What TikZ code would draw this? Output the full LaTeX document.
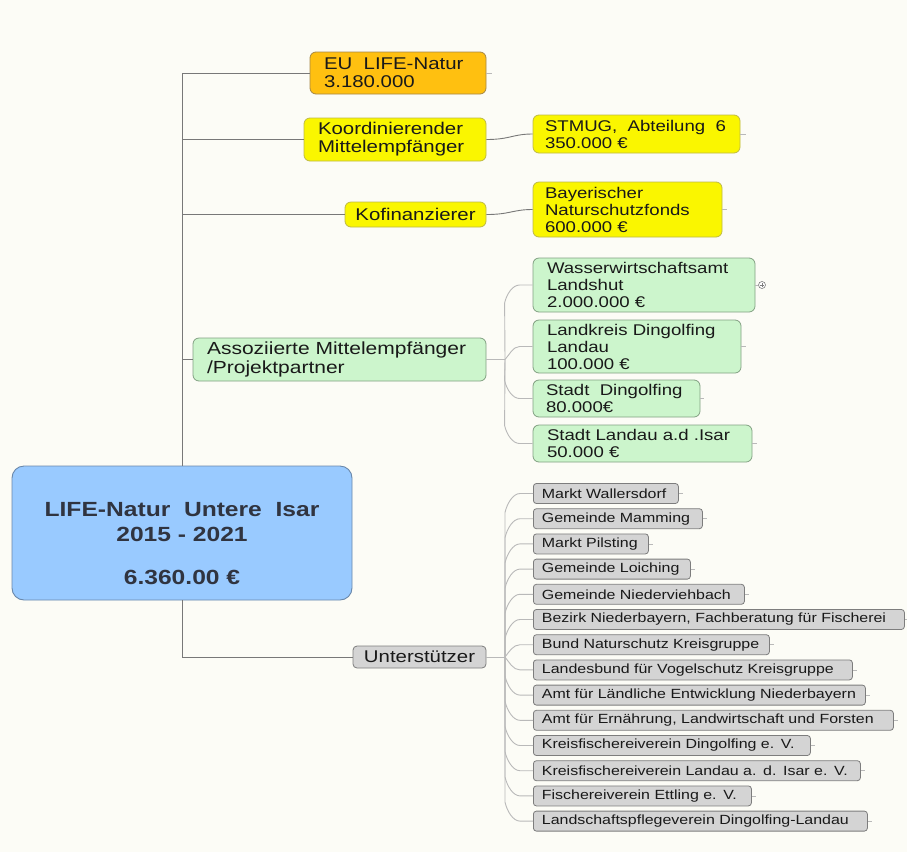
\documentclass[tikz,border=0pt]{standalone}
\usepackage{fontspec}
\setmainfont{Liberation Sans}[FakeStretch=1.2]
\usetikzlibrary{calc}
\definecolor{bgc}{RGB}{252,252,246}
\definecolor{rootfill}{RGB}{153,202,255}
\definecolor{rootbd}{RGB}{105,135,170}
\definecolor{eufill}{RGB}{255,192,16}
\definecolor{eubd}{RGB}{165,135,70}
\definecolor{yfill}{RGB}{250,246,0}
\definecolor{ybd}{RGB}{190,185,70}
\definecolor{gfill}{RGB}{204,245,204}
\definecolor{gbd}{RGB}{130,160,130}
\definecolor{grfill}{RGB}{212,212,212}
\definecolor{grbd}{RGB}{125,125,125}
\definecolor{txt}{RGB}{25,25,25}
\definecolor{roottxt}{RGB}{48,52,64}
\definecolor{mainln}{RGB}{120,120,120}
\definecolor{lightln}{RGB}{185,185,185}
\newcommand{\fsz}[2]{\fontsize{#1}{#2}\selectfont}
\begin{document}
\begin{tikzpicture}[x=1pt,y=-1pt,
  every node/.style={text=txt},
  basebox/.style={rounded corners=6pt, line width=0.8pt, inner ysep=0pt, align=left},
  eubox/.style={basebox, fill=eufill, draw=eubd, inner xsep=14pt, font=\fsz{17}{18}},
  ybox/.style={basebox, fill=yfill, draw=ybd, inner xsep=14pt, font=\fsz{17}{18}},
  ychild/.style={basebox, fill=yfill, draw=ybd, inner xsep=12pt, font=\fsz{15.5}{17}},
  gpar/.style={basebox, fill=gfill, draw=gbd, inner xsep=14pt, font=\fsz{17.5}{19}},
  gchild/.style={basebox, fill=gfill, draw=gbd, inner xsep=14pt, font=\fsz{15.5}{17}},
  grpar/.style={basebox, rounded corners=4pt, fill=grfill, draw=grbd, inner xsep=10pt, font=\fsz{17}{18}, align=center},
  grchild/.style={basebox, rounded corners=3pt, fill=grfill, draw=grbd, inner xsep=8.5pt, font=\fsz{13.3}{14}, anchor=west, minimum height=20pt},
  rootbox/.style={rounded corners=12pt, fill=rootfill, draw=rootbd, line width=0.9pt},
  mainlink/.style={draw=mainln, line width=0.95pt},
  sublink/.style={draw=lightln, line width=0.9pt},
  stub/.style={draw=lightln, line width=0.8pt}
]
\useasboundingbox (0,0) rectangle (907,852);
\fill[bgc] (0,0) rectangle (907,852);

% root
\node[rootbox, minimum width=340pt, minimum height=134pt] (root) at (182,533) {};
\node[align=center, text=roottxt, font=\bfseries\fsz{20.5}{25}] (roottext) at (182,544)
  {LIFE-Natur\ \ Untere\ \ Isar\\2015 - 2021\\[18pt]6.360.00 €};

% first-level nodes
\node[eubox, minimum width=176pt, minimum height=42pt, text width=148pt] (eu) at (398,73) {EU\ \ LIFE-Natur\\3.180.000};
\node[ybox, minimum width=182pt, minimum height=43pt, text width=154pt] (koord) at (395,139.5) {Koordinierender\\Mittelempfänger};
\node[ybox, inner xsep=10pt, minimum width=141pt, minimum height=25pt, align=center] (kofin) at (415.5,214.5) {Kofinanzierer};
\node[gpar, minimum width=293pt, minimum height=43pt, text width=265pt] (assoz) at (339.5,359.5) {Assoziierte Mittelempfänger\\/Projektpartner};
\node[grpar, minimum width=133pt, minimum height=22pt] (unt) at (419.5,657) {Unterstützer};

% trunk
\draw[mainlink] (root.north) |- (eu.west);
\draw[mainlink] (root.north) |- (koord.west);
\draw[mainlink] (root.north) |- (kofin.west);
\draw[mainlink] (root.north) |- (assoz.west);
\draw[mainlink] (root.south) |- (unt.west);
\draw[stub] (eu.east) -- ++(6,0);

% yellow children
\node[ychild, minimum width=207pt, minimum height=38pt, text width=183pt] (stmug) at (636.5,134) {STMUG,\ \ Abteilung\ \ 6\\350.000 €};
\node[ychild, minimum width=189pt, minimum height=55pt, text width=165pt] (bayer) at (627.5,209.5) {Bayerischer\\Naturschutzfonds\\600.000 €};
\draw[mainlink, line width=0.9pt] (koord.east) .. controls +(24,0) and +(-20,0) .. (stmug.west);
\draw[mainlink, line width=0.9pt] (kofin.east) .. controls +(24,0) and +(-20,0) .. (bayer.west);
\draw[stub] (stmug.east) -- ++(6,0);
\draw[stub] (bayer.east) -- ++(5,0);

% green children
\node[gchild, minimum width=222pt, minimum height=54pt, text width=194pt] (w1) at (644,285) {Wasserwirtschaftsamt\\Landshut\\2.000.000 €};
\node[gchild, minimum width=208pt, minimum height=53pt, text width=180pt] (w2) at (637,346.5) {Landkreis Dingolfing\\Landau\\100.000 €};
\node[gchild, inner xsep=13pt, minimum width=167pt, minimum height=37pt, text width=141pt] (w3) at (616.5,398.5) {\mbox{Stadt\ \ Dingolfing}\\80.000€};
\node[gchild, minimum width=219pt, minimum height=37pt, text width=191pt] (w4) at (642.5,443.5) {Stadt Landau a.d .Isar\\50.000 €};
\node[circle, draw=grbd, fill=white, line width=0.6pt, inner sep=0pt, minimum size=7pt] (wplus) at (762,285) {};
\draw[grbd, line width=0.6pt] ($(wplus.center)+(-2,0)$) -- ($(wplus.center)+(2,0)$) ($(wplus.center)+(0,-2)$) -- ($(wplus.center)+(0,2)$);
\draw[stub] (w1.east) -- (wplus.west);
\draw[stub] (w2.east) -- ++(5,0);
\draw[stub] (w3.east) -- ++(4,0);
\draw[stub] (w4.east) -- ++(5,0);

\coordinate (spA) at (505,359.5);
\draw[sublink] (assoz.east) -- (spA);
\draw[sublink] (spA) -- ($(w1.west)+(-28,18)$) .. controls +(2,-9) and +(-7,0) .. ($(w1.west)+(-13,0)$) -- (w1.west);
\draw[sublink] (spA) .. controls +(4,-4) and +(-7,0) .. ($(w2.west)+(-13,0)$) -- (w2.west);
\draw[sublink] (spA) -- ($(w3.west)+(-28,-18)$) .. controls +(2,9) and +(-7,0) .. ($(w3.west)+(-13,0)$) -- (w3.west);
\draw[sublink] (spA) -- ($(w4.west)+(-28,-18)$) .. controls +(2,9) and +(-7,0) .. ($(w4.west)+(-13,0)$) -- (w4.west);

% grey children
\node[grchild, minimum width=145pt, text width=128pt] (g0) at (533,493.5) {\mbox{Markt Wallersdorf}};
\node[grchild, minimum width=169pt, text width=152pt] (g1) at (533,518.7) {\mbox{Gemeinde Mamming}};
\node[grchild, minimum width=115pt, text width=98pt] (g2) at (533,543.9) {\mbox{Markt Pilsting}};
\node[grchild, minimum width=157pt, text width=140pt] (g3) at (533,569.1) {\mbox{Gemeinde Loiching}};
\node[grchild, minimum width=211pt, text width=194pt] (g4) at (533,594.3) {\mbox{Gemeinde Niederviehbach}};
\node[grchild, minimum width=371pt, text width=354pt] (g5) at (533,619.5) {\mbox{Bezirk Niederbayern, Fachberatung für Fischerei}};
\node[grchild, minimum width=236pt, text width=219pt] (g6) at (533,644.7) {\mbox{Bund Naturschutz Kreisgruppe}};
\node[grchild, minimum width=319pt, text width=302pt] (g7) at (533,669.9) {\mbox{Landesbund für Vogelschutz Kreisgruppe}};
\node[grchild, minimum width=332pt, text width=315pt] (g8) at (533,695.1) {\mbox{Amt für Ländliche Entwicklung Niederbayern}};
\node[grchild, minimum width=360pt, text width=343pt] (g9) at (533,720.3) {\mbox{Amt für Ernährung, Landwirtschaft und Forsten}};
\node[grchild, minimum width=277pt, text width=260pt] (g10) at (533,745.5) {\mbox{Kreisfischereiverein Dingolfing e. V.}};
\node[grchild, minimum width=327pt, text width=310pt] (g11) at (533,770.7) {\mbox{Kreisfischereiverein Landau a. d. Isar e. V.}};
\node[grchild, minimum width=218pt, text width=201pt] (g12) at (533,795.9) {\mbox{Fischereiverein Ettling e. V.}};
\node[grchild, minimum width=334pt, text width=317pt] (g13) at (533,821.1) {\mbox{Landschaftspflegeverein Dingolfing-Landau}};

\coordinate (spU) at (505,657);
\draw[sublink] (unt.east) -- (spU);
\foreach \g in {g0,g1,g2,g3,g4,g5}{
  \draw[sublink] (spU) -- ($(\g.west)+(-28,19)$) .. controls +(2,-9) and +(-7,0) .. ($(\g.west)+(-13,0)$) -- (\g.west);
}
\draw[sublink] (spU) .. controls +(4,-5) and +(-7,0) .. ($(g6.west)+(-13,0)$) -- (g6.west);
\draw[sublink] (spU) .. controls +(4,5) and +(-7,0) .. ($(g7.west)+(-13,0)$) -- (g7.west);
\foreach \g in {g8,g9,g10,g11,g12,g13}{
  \draw[sublink] (spU) -- ($(\g.west)+(-28,-19)$) .. controls +(2,9) and +(-7,0) .. ($(\g.west)+(-13,0)$) -- (\g.west);
}
\foreach \g in {g0,g1,g2,g3,g4,g5,g6,g7,g8,g9,g10,g11,g12,g13}{
  \draw[stub] (\g.east) -- ++(4,0);
}
\end{tikzpicture}
\end{document}
